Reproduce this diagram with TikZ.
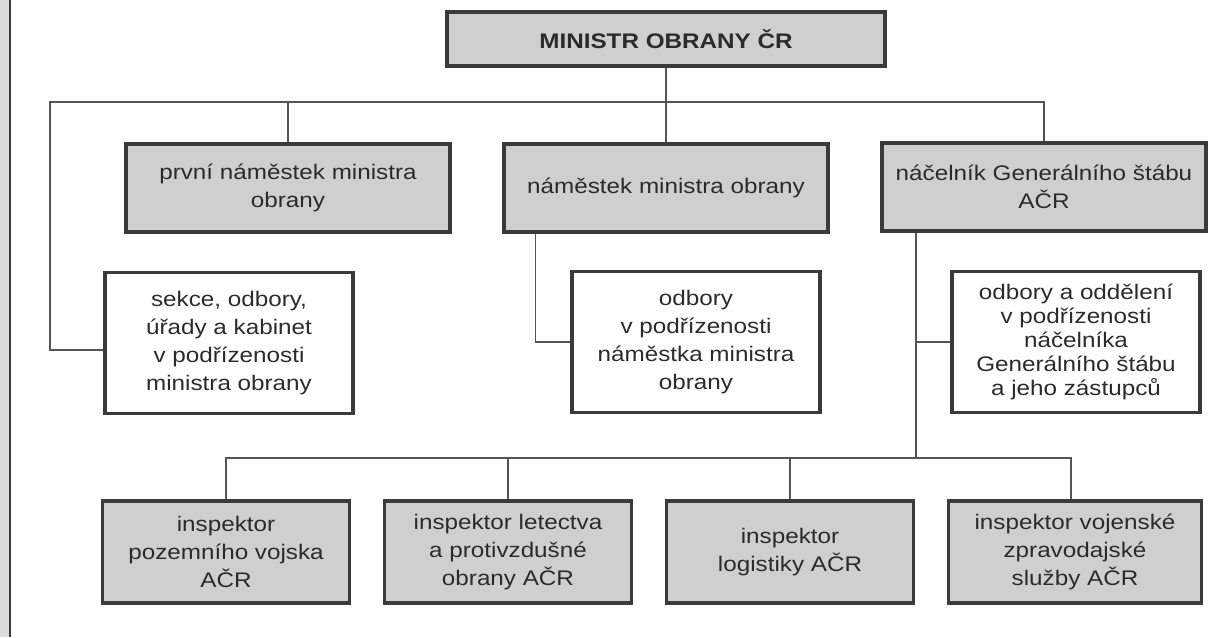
\documentclass[tikz,border=0pt]{standalone}
\usepackage{fontspec}
\setmainfont{Liberation Sans}[FakeStretch=1.15]
\usetikzlibrary{positioning, calc}
\definecolor{boxgray}{HTML}{CFCFCF}
\definecolor{edgegray}{HTML}{3A3A3A}
\definecolor{wiregray}{HTML}{555555}
\definecolor{stripgray}{HTML}{DCDCDC}
\definecolor{ink}{HTML}{2B2B2B}

\begin{document}
\begin{tikzpicture}[x=0.02cm, y=-0.02cm,
  box/.style={rectangle, draw=edgegray, line width=1.8pt, text=ink, align=center,
    font={\fontsize{12}{16.1}\selectfont}},
  chief/.style={box, fill=boxgray, minimum width=8.76cm, minimum height=1.08cm,
    font={\fontsize{12}{14}\selectfont\bfseries}},
  deputy/.style={box, fill=boxgray, minimum width=6.48cm, minimum height=1.76cm},
  office/.style={box, fill=white, minimum width=4.96cm, minimum height=2.82cm},
  inspector/.style={box, fill=boxgray, minimum width=4.94cm, minimum height=2.04cm},
  link/.style={draw=wiregray, line width=0.6pt}]

  \useasboundingbox (0,0) rectangle (1224,637);
  \fill[stripgray] (0,0) rectangle (9,637);
  \draw[edgegray, line width=1.4pt] (10,0) -- (10,637);

  \node[chief] (min) at (666,39) {MINISTR OBRANY ČR};

  \node[deputy] (prv) at (288,188) {první náměstek ministra\\obrany};
  \node[deputy] (nam) at (666,188) {náměstek ministra obrany};
  \node[deputy] (nac) at (1044,187) {náčelník Generálního štábu\\AČR};

  \node[office] (sek) at (229,343) {sekce, odbory,\\úřady a kabinet\\v podřízenosti\\ministra obrany};
  \node[office] (odb) at (696,342) {odbory\\v podřízenosti\\náměstka ministra\\obrany};
  \node[office, font={\fontsize{12}{13.7}\selectfont}] (odd) at (1076,342)
    {odbory a oddělení\\v podřízenosti\\náčelníka\\Generálního štábu\\a jeho zástupců};

  \node[inspector] (ipv) at (226,552) {inspektor\\pozemního vojska\\AČR};
  \node[inspector] (ilp) at (508,552) {inspektor letectva\\a protivzdušné\\obrany AČR};
  \node[inspector] (ilg) at (790,552) {inspektor\\logistiky AČR};
  \node[inspector, minimum width=5.06cm] (ivz) at (1075,552) {inspektor vojenské\\zpravodajské\\služby AČR};

  \coordinate (top) at (50,102);
  \coordinate (knot) at (916,458);

  \draw[link] (min) -- (nam);
  \draw[link] ($(sek.west)+(0,7)$) -| (top) -| (nac.north);
  \draw[link] (prv.north) -- (prv.north |- top);
  \draw[link] ($(nam.south west)+(33,0)$) |- (odb.west);
  \draw[link] (nac.south -| knot) -- (knot);
  \draw[link] (knot |- odd.west) -- (odd.west);
  \draw[link] (ipv.north) |- (knot) -| ([xshift=-0.08cm]ivz.north);
  \draw[link] (ilp.north) -- (ilp.north |- knot);
  \draw[link] (ilg.north) -- (ilg.north |- knot);
\end{tikzpicture}
\end{document}
